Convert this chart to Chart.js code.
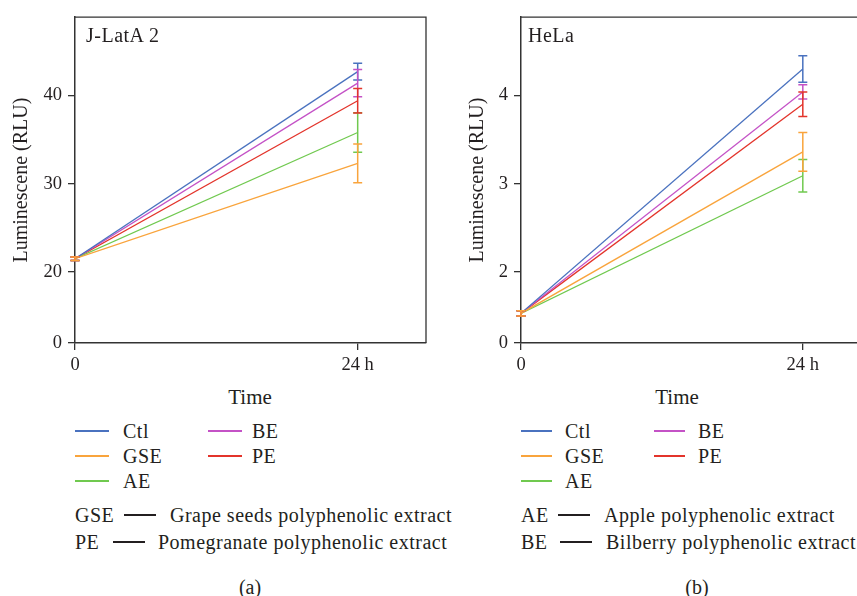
<!DOCTYPE html>
<html>
<head>
<meta charset="utf-8">
<script src="https://cdn.jsdelivr.net/npm/chart.js@4/dist/chart.umd.min.js"></script>
<style>
  html, body { margin: 0; padding: 0; background: #fff; }
  body { width: 857px; height: 596px; overflow: hidden; position: relative; font-family: 'Liberation Serif', serif; color: #231f20; }
  canvas { position: absolute; top: 0; }
  .t { position: absolute; font-size: 20px; line-height: 22px; letter-spacing: 0.5px; white-space: nowrap; }
  .c { transform: translateX(-50%); letter-spacing: 0; }
  .sw { position: absolute; height: 2px; }
</style>
</head>
<body>
<canvas id="chartA" width="440" height="380" style="left:0"></canvas>
<canvas id="chartB" width="420" height="380" style="left:440px"></canvas>
<div id="labels"></div>
<script>
var times = [0, 24];
var seriesNames = ['Ctl', 'GSE', 'AE', 'BE', 'PE'];
var seriesColors = ['#4a72bf', '#f9a43c', '#70c94f', '#c452c6', '#e3342b'];

// J-LatA 2 panel, means and error bars at 0 and 24 h
var jlatCtl = [21.5, 42.7];
var jlatGse = [21.5, 32.3];
var jlatAe = [21.5, 35.8];
var jlatBe = [21.5, 41.4];
var jlatPe = [21.5, 39.4];
var jlatCtlErr = [0.2, 0.95];
var jlatGseErr = [0.2, 2.2];
var jlatAeErr = [0.2, 2.25];
var jlatBeErr = [0.2, 1.55];
var jlatPeErr = [0.2, 1.4];
var jlatYTicks = [20, 30, 40];

// HeLa panel
var helaCtl = [1.53, 4.3];
var helaGse = [1.53, 3.36];
var helaAe = [1.53, 3.09];
var helaBe = [1.53, 4.04];
var helaPe = [1.53, 3.9];
var helaCtlErr = [0.03, 0.15];
var helaGseErr = [0.03, 0.22];
var helaAeErr = [0.03, 0.185];
var helaBeErr = [0.03, 0.08];
var helaPeErr = [0.03, 0.14];
var helaYTicks = [2, 3, 4];

var axisColor = '#333';
var textColor = '#231f20';

function buildDatasets(means, errs) {
  return seriesNames.map(function (name, i) {
    return {
      label: name,
      data: times.map(function (t, j) { return { x: t, y: means[i][j] }; }),
      errors: errs[i],
      borderColor: seriesColors[i],
      borderWidth: 1.3,
      pointRadius: 0,
      fill: false,
      order: name === 'GSE' ? 0 : i + 1,
    };
  });
}

var errorBars = {
  id: 'errorBars',
  afterDatasetsDraw: function (chart) {
    var ctx = chart.ctx;
    var xs = chart.scales.x;
    var ys = chart.scales.y;
    var drawOrder = [0, 2, 3, 4, 1];
    ctx.save();
    ctx.lineWidth = 1.5;
    drawOrder.forEach(function (i) {
      var ds = chart.data.datasets[i];
      ctx.strokeStyle = ds.borderColor;
      ds.data.forEach(function (p, j) {
        var x = xs.getPixelForValue(p.x);
        var top = ys.getPixelForValue(p.y + ds.errors[j]);
        var bot = ys.getPixelForValue(p.y - ds.errors[j]);
        ctx.beginPath();
        ctx.moveTo(x, top); ctx.lineTo(x, bot);
        ctx.moveTo(x - 4.5, top); ctx.lineTo(x + 4.5, top);
        ctx.moveTo(x - 4.5, bot); ctx.lineTo(x + 4.5, bot);
        ctx.stroke();
      });
    });
    ctx.restore();
  },
};

var frame = {
  id: 'frame',
  afterDraw: function (chart) {
    var a = chart.chartArea;
    var ctx = chart.ctx;
    ctx.save();
    ctx.strokeStyle = axisColor;
    ctx.lineWidth = 1.3;
    ctx.beginPath();
    ctx.moveTo(a.left, a.top); ctx.lineTo(a.right, a.top); ctx.lineTo(a.right, a.bottom);
    ctx.stroke();
    ctx.restore();
  },
};

function makeChart(id, datasets, opts) {
  var tickFont = { family: 'Liberation Serif', size: 18.5 };
  return new Chart(document.getElementById(id), {
    type: 'line',
    data: { datasets: datasets },
    plugins: [errorBars, frame],
    options: {
      responsive: false,
      animation: false,
      devicePixelRatio: 1,
      layout: { padding: { top: 14, right: opts.padRight, left: 0, bottom: 0 } },
      plugins: { legend: { display: false }, tooltip: { enabled: false } },
      scales: {
        x: {
          type: 'linear',
          min: 0,
          max: opts.xMax,
          afterBuildTicks: function (s) { s.ticks = times.map(function (v) { return { value: v }; }); },
          afterFit: function (s) { s.height = 37; },
          ticks: {
            padding: 4,
            color: textColor,
            font: tickFont,
            maxRotation: 0,
            callback: function (v) { return v === 24 ? '24 h' : String(v); },
          },
          grid: { drawOnChartArea: false, tickLength: 7, color: axisColor, lineWidth: 1.3 },
          border: { color: axisColor, width: 1.5 },
        },
        y: {
          type: 'linear',
          min: opts.yMin,
          max: opts.yMax,
          afterBuildTicks: function (s) {
            s.ticks = [{ value: opts.yMin }].concat(opts.yTicks.map(function (v) { return { value: v }; }));
          },
          afterFit: function (s) { s.width = opts.yWidth; },
          ticks: {
            padding: 6,
            color: textColor,
            font: tickFont,
            callback: function (v) { return v === opts.yMin ? '0' : String(v); },
          },
          title: {
            display: true,
            text: 'Luminescene (RLU)',
            color: textColor,
            font: { family: 'Liberation Serif', size: 20 },
            padding: { top: opts.titlePad, bottom: 0 },
          },
          grid: { drawOnChartArea: false, tickLength: 7, color: axisColor, lineWidth: 1.3 },
          border: { color: axisColor, width: 1.5 },
        },
      },
    },
  });
}

makeChart('chartA',
  buildDatasets([jlatCtl, jlatGse, jlatAe, jlatBe, jlatPe], [jlatCtlErr, jlatGseErr, jlatAeErr, jlatBeErr, jlatPeErr]),
  { xMax: 29.8, yMin: 11.94, yMax: 48.88, yTicks: jlatYTicks, yWidth: 75, titlePad: 10, padRight: 14 });

makeChart('chartB',
  buildDatasets([helaCtl, helaGse, helaAe, helaBe, helaPe], [helaCtlErr, helaGseErr, helaAeErr, helaBeErr, helaPeErr]),
  { xMax: 28.7, yMin: 1.194, yMax: 4.888, yTicks: helaYTicks, yWidth: 81, titlePad: 26, padRight: 2 });

// surrounding text
var labels = document.getElementById('labels');
function addText(txt, x, cy, center, size) {
  var d = document.createElement('div');
  d.className = 't' + (center ? ' c' : '');
  d.textContent = txt;
  d.style.left = x + 'px';
  d.style.top = (cy - 11) + 'px';
  if (size) d.style.fontSize = size + 'px';
  labels.appendChild(d);
}
function addLine(x1, x2, cy, color) {
  var d = document.createElement('div');
  d.className = 'sw';
  d.style.left = x1 + 'px';
  d.style.width = (x2 - x1) + 'px';
  d.style.top = (cy - 1) + 'px';
  d.style.background = color;
  labels.appendChild(d);
}

function panelText(p) {
  addText(p.title, p.titleX, 35, false, 20);
  addText('Time', p.timeX, 397, true, 21);
  var rows = [431, 456, 481];
  seriesNames.forEach(function (name, i) {
    var col = i < 3 ? 0 : 1;
    var cy = rows[col === 0 ? i : i - 3];
    addLine(p.legX[col], p.legX[col] + p.legW, cy, seriesColors[i]);
    addText(name, p.legTextX[col], cy);
  });
  p.defs.forEach(function (d, k) {
    var cy = [515, 542][k];
    addText(d[0], p.defX, cy);
    addLine(d[1], d[1] + 32, cy, '#231f20');
    addText(d[2], d[3], cy);
  });
  addText(p.tag, p.tagX, 587, true);
}

panelText({
  title: 'J-LatA 2', titleX: 86, timeX: 250,
  legX: [75, 208], legW: 34, legTextX: [123, 252],
  defX: 75,
  defs: [['GSE', 124, 'Grape seeds polyphenolic extract', 170], ['PE', 113, 'Pomegranate polyphenolic extract', 158]],
  tag: '(a)', tagX: 250,
});
panelText({
  title: 'HeLa', titleX: 528, timeX: 677,
  legX: [521, 654], legW: 31, legTextX: [565, 698],
  defX: 521,
  defs: [['AE', 558, 'Apple polyphenolic extract', 604], ['BE', 560, 'Bilberry polyphenolic extract', 606]],
  tag: '(b)', tagX: 697,
});
</script>
</body>
</html>
